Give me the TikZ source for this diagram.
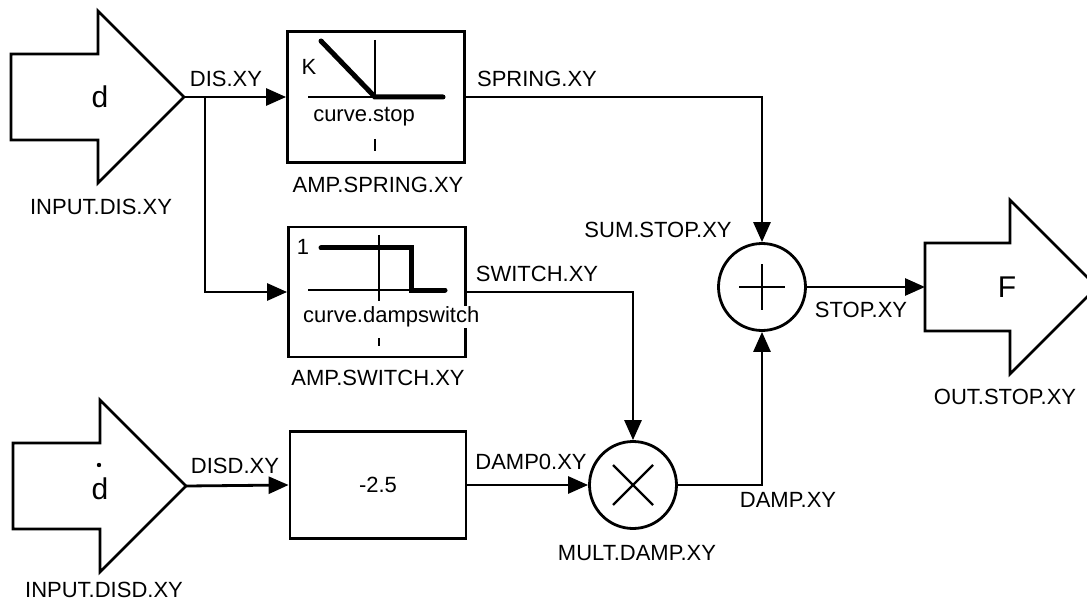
\documentclass[tikz,border=0pt]{standalone}
\usepackage{fontspec}
\setmainfont{Liberation Sans}
\usetikzlibrary{arrows.meta}

\begin{document}
\begin{tikzpicture}[x=1pt, y=-1pt, >={Triangle[length=20pt,width=17pt]},
    wire/.style={line width=2.8pt},
    block/.style={draw, line width=2.8pt, rectangle, inner sep=0pt},
    junction/.style={draw, line width=2.8pt, circle, inner sep=0pt, minimum size=87pt},
    lbl/.style={font=\fontsize{22}{25}\selectfont, inner sep=1pt},
    big/.style={font=\fontsize{30}{33}\selectfont, inner sep=0pt},
    curve/.style={line width=5pt, line cap=round},
    axis/.style={line width=2.4pt}]
    \useasboundingbox (0,0) rectangle (1087,604);

    % Input and output arrows
    \draw[wire] (11,54) -- (98,54) -- (98,11) -- (184,97) -- (98,183) -- (98,140) -- (11,140) -- cycle;
    \draw[wire] (13,443) -- (100,443) -- (100,400) -- (186,486) -- (100,572) -- (100,529) -- (13,529) -- cycle;
    \draw[wire] (925,243) -- (1010,243) -- (1010,200) -- (1097,287) -- (1010,374) -- (1010,331) -- (925,331) -- cycle;
    \node[big] (dsym) at (100,97) {d};
    \node[big] (ddsym) at (100,489) {d};
    \fill (99,465) circle (2.2pt);
    \node[big] (fsym) at (1007,287) {F};

    \coordinate (distip) at (184,97);
    \coordinate (disdtip) at (186,486);
    \coordinate (branch) at (205,97);
    \coordinate (outin) at (925,287);

    % Blocks
    \node[block, minimum width=177pt, minimum height=131pt] (springbox) at (376,97) {};
    \node[block, minimum width=177pt, minimum height=130pt] (switchbox) at (377,292) {};
    \node[block, minimum width=176pt, minimum height=107pt, lbl] (gainbox) at (378,485) {-2.5};
    \node[junction] (sumc) at (762,287) {};
    \node[junction] (multc) at (633,485) {};

    % Spring curve
    \draw[axis] (308,97) -- (375,97);
    \draw[axis] (375,40) -- (375,97);
    \draw[axis] (375,139) -- (375,151);
    \draw[curve] (321,41) -- (375,97) -- (443,97);
    \node[lbl] (kval) at (309,67) {K};
    \node[lbl] (stopcurve) at (364,117) {curve.stop};

    % Switch curve
    \draw[axis] (308,290) -- (411,290);
    \draw[axis] (379,235) -- (379,301);
    \draw[axis] (379,338) -- (379,346);
    \draw[curve] (321,248) -- (411,248) -- (411,290) -- (445,290);
    \node[lbl] (oneval) at (303,247) {1};
    \node[lbl, fill=white, anchor=west] (switchcurve) at (302,317) {curve.dampswitch};

    % Signs
    \draw[axis] (sumc.center) ++(-23,0) -- ++(46,0);
    \draw[axis] (sumc.center) ++(0,-23) -- ++(0,46);
    \draw[axis] (multc.center) ++(-20,-20) -- ++(40,40);
    \draw[axis] (multc.center) ++(-20,20) -- ++(40,-40);

    % Connections
    \draw[wire, ->] (distip) -- (springbox.west);
    \draw[wire, ->] (branch) |- (switchbox.west);
    \draw[wire, ->] (springbox.east) -| (sumc.north);
    \draw[wire, ->] (switchbox.east) -| (multc.north);
    \draw[wire, ->] (disdtip) -- (gainbox.west);
    \draw[wire, ->] (gainbox.east) -- (multc.west);
    \draw[wire, ->] (multc.east) -| (sumc.south);
    \draw[wire, ->] (sumc.east) -- (outin);

    % Labels
    \node[lbl] (disxy) at (226,79) {DIS.XY};
    \node[lbl] (inputdis) at (101,207) {INPUT.DIS.XY};
    \node[lbl] (springxy) at (537,79) {SPRING.XY};
    \node[lbl] (ampspring) at (378,185) {AMP.SPRING.XY};
    \node[lbl] (sumstop) at (658,230) {SUM.STOP.XY};
    \node[lbl] (switchxy) at (537,274) {SWITCH.XY};
    \node[lbl] (ampswitch) at (378,378) {AMP.SWITCH.XY};
    \node[lbl] (stopxy) at (861,310) {STOP.XY};
    \node[lbl] (outstop) at (1005,397) {OUT.STOP.XY};
    \node[lbl] (disdxy) at (235,466) {DISD.XY};
    \node[lbl] (damp0) at (531,462) {DAMP0.XY};
    \node[lbl] (dampxy) at (788,500) {DAMP.XY};
    \node[lbl] (multdamp) at (637,553) {MULT.DAMP.XY};
    \node[lbl] (inputdisd) at (104,590) {INPUT.DISD.XY};
\end{tikzpicture}
\end{document}
